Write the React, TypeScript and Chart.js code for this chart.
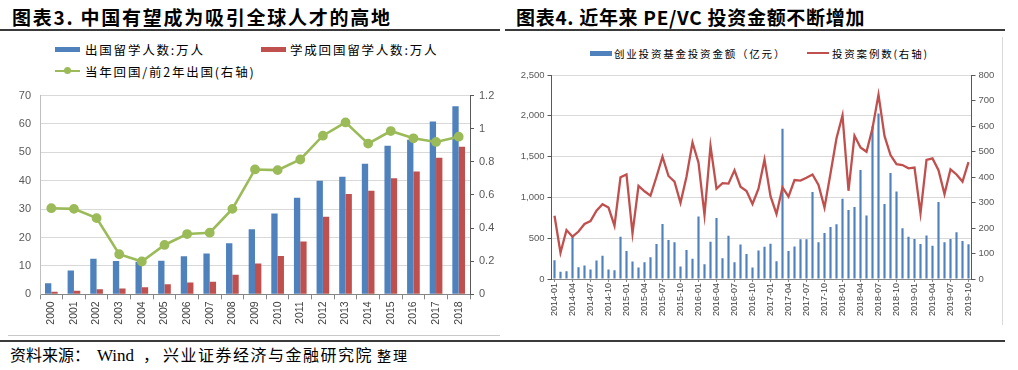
import React, { useEffect, useRef } from 'react';
import { Chart, registerables } from 'chart.js';

Chart.register(...registerables);

// ---------- Left chart data (图表3) ----------
const years = ['2000', '2001', '2002', '2003', '2004', '2005', '2006', '2007', '2008', '2009', '2010', '2011', '2012', '2013', '2014', '2015', '2016', '2017', '2018'];
const outboundStudents = [3.9, 8.4, 12.5, 11.73, 11.47, 11.85, 13.4, 14.4, 17.98, 22.93, 28.47, 33.97, 39.96, 41.39, 45.98, 52.37, 54.45, 60.84, 66.21];
const returnedStudents = [0.91, 1.22, 1.79, 2.01, 2.51, 3.5, 4.2, 4.4, 6.93, 10.83, 13.48, 18.62, 27.29, 35.35, 36.48, 40.91, 43.25, 48.09, 51.94];
const returnRatio = [0.52, 0.516, 0.46, 0.242, 0.198, 0.298, 0.364, 0.372, 0.516, 0.754, 0.75, 0.814, 0.958, 1.038, 0.91, 0.986, 0.942, 0.92, 0.952];
const leftLabels = ['出国留学人数:万人', '学成回国留学人数:万人', '当年回国/前2年出国(右轴)'];
const leftColors = ['#4f81bd', '#c0504d', '#9bbb59'];

// ---------- Right chart data (图表4) ----------
const months = [
  '2014-01', '2014-02', '2014-03', '2014-04', '2014-05', '2014-06', '2014-07', '2014-08', '2014-09', '2014-10', '2014-11', '2014-12',
  '2015-01', '2015-02', '2015-03', '2015-04', '2015-05', '2015-06', '2015-07', '2015-08', '2015-09', '2015-10', '2015-11', '2015-12',
  '2016-01', '2016-02', '2016-03', '2016-04', '2016-05', '2016-06', '2016-07', '2016-08', '2016-09', '2016-10', '2016-11', '2016-12',
  '2017-01', '2017-02', '2017-03', '2017-04', '2017-05', '2017-06', '2017-07', '2017-08', '2017-09', '2017-10', '2017-11', '2017-12',
  '2018-01', '2018-02', '2018-03', '2018-04', '2018-05', '2018-06', '2018-07', '2018-08', '2018-09', '2018-10', '2018-11', '2018-12',
  '2019-01', '2019-02', '2019-03', '2019-04', '2019-05', '2019-06', '2019-07', '2019-08', '2019-09', '2019-10',
];
const ventureAmount = [
  230, 90, 95, 520, 145, 165, 115, 226, 284, 115, 107, 518,
  342, 214, 140, 206, 267, 428, 675, 477, 449, 152, 354, 247,
  765, 181, 457, 749, 255, 531, 206, 424, 305, 140, 350, 395,
  432, 218, 1840, 342, 399, 486, 486, 1066, 450, 564, 638, 671,
  982, 847, 883, 1337, 777, 1873, 2029, 920, 1300, 1072, 622, 519,
  491, 429, 532, 409, 945, 450, 491, 573, 466, 425,
];
const dealCount = [
  248, 103, 192, 166, 186, 216, 227, 268, 293, 280, 209, 399,
  410, 179, 365, 344, 327, 401, 480, 404, 382, 299, 401, 535,
  456, 251, 522, 354, 376, 374, 426, 362, 345, 294, 354, 468,
  325, 255, 359, 323, 388, 386, 397, 410, 369, 280, 414, 552,
  642, 346, 562, 516, 499, 591, 723, 561, 486, 450, 447, 434,
  437, 258, 467, 473, 427, 333, 430, 410, 382, 458,
];
const rightLabels = ['创业投资基金投资金额（亿元）', '投资案例数(右轴)'];
const rightColors = ['#4f81bd', '#c0504d'];

const TICK_FONT = "'Liberation Sans', Arial, sans-serif";
const CJK = "'Noto Sans CJK SC', 'Noto Sans', sans-serif";
const SERIF = "'Liberation Serif', 'Noto Sans CJK SC', serif";

export default function App() {
  const leftRef = useRef<HTMLCanvasElement>(null);
  const rightRef = useRef<HTMLCanvasElement>(null);

  useEffect(() => {
    const left = new Chart(leftRef.current as HTMLCanvasElement, {
      type: 'bar',
      data: {
        labels: years,
        datasets: [
          {
            type: 'line',
            label: leftLabels[2],
            data: returnRatio,
            yAxisID: 'y1',
            borderColor: leftColors[2],
            backgroundColor: leftColors[2],
            pointBackgroundColor: leftColors[2],
            pointBorderColor: leftColors[2],
            borderWidth: 2.6,
            pointRadius: 3.6,
            tension: 0,
            order: 0,
          } as any,
          {
            type: 'bar',
            label: leftLabels[0],
            data: outboundStudents,
            yAxisID: 'y',
            backgroundColor: leftColors[0],
            categoryPercentage: 0.56,
            barPercentage: 1,
            order: 1,
          },
          {
            type: 'bar',
            label: leftLabels[1],
            data: returnedStudents,
            yAxisID: 'y',
            backgroundColor: leftColors[1],
            categoryPercentage: 0.56,
            barPercentage: 1,
            order: 1,
          },
        ],
      },
      options: {
        responsive: false,
        animation: false,
        layout: { padding: { top: 14.7, left: 0, right: 0, bottom: 0 } },
        plugins: { legend: { display: false }, tooltip: { enabled: false } },
        scales: {
          x: {
            grid: { display: true, drawOnChartArea: false, drawTicks: true, tickLength: 5, color: '#868686', offset: true },
            border: { display: true, color: '#868686' },
            ticks: { autoSkip: false, minRotation: 90, maxRotation: 90, padding: 2, color: '#404040', font: { family: TICK_FONT, size: 10.5 } },
            afterFit: (s: any) => { s.height = 35.7; },
          },
          y: {
            position: 'left',
            min: 0,
            max: 70,
            ticks: { stepSize: 10, padding: 9, color: '#595959', font: { family: TICK_FONT, size: 11 } },
            grid: { color: '#d9d9d9', drawTicks: false },
            border: { display: true, color: '#bfbfbf' },
            afterFit: (s: any) => { s.width = 40; },
          },
          y1: {
            position: 'right',
            min: 0,
            max: 1.2,
            ticks: {
              stepSize: 0.2,
              padding: 5,
              color: '#595959',
              font: { family: TICK_FONT, size: 11 },
              callback: (v: any) => String(Number(Number(v).toFixed(1))),
            },
            grid: { drawOnChartArea: false, drawTicks: true, tickLength: 4, color: '#595959' },
            border: { display: true, color: '#595959' },
            afterFit: (s: any) => { s.width = 30; },
          },
        },
      },
    });

    const right = new Chart(rightRef.current as HTMLCanvasElement, {
      type: 'bar',
      data: {
        labels: months,
        datasets: [
          {
            type: 'line',
            label: rightLabels[1],
            data: dealCount,
            yAxisID: 'y1',
            borderColor: rightColors[1],
            backgroundColor: rightColors[1],
            borderWidth: 2.3,
            pointRadius: 0,
            tension: 0,
            order: 0,
          } as any,
          {
            type: 'bar',
            label: rightLabels[0],
            data: ventureAmount,
            yAxisID: 'y',
            backgroundColor: rightColors[0],
            categoryPercentage: 1,
            barPercentage: 0.36,
            order: 1,
          },
        ],
      },
      options: {
        responsive: false,
        animation: false,
        layout: { padding: { top: 15, left: 0, right: 0, bottom: 0 } },
        plugins: { legend: { display: false }, tooltip: { enabled: false } },
        scales: {
          x: {
            grid: { display: true, drawOnChartArea: false, drawTicks: true, tickLength: 3, color: '#868686', offset: false },
            border: { display: true, color: '#868686' },
            ticks: {
              autoSkip: false,
              minRotation: 90,
              maxRotation: 90,
              padding: 1,
              color: '#404040',
              font: { family: TICK_FONT, size: 9 },
              callback: (_v: any, i: number) => (i % 3 === 0 ? months[i] : null),
            },
            afterFit: (s: any) => { s.height = 46; },
          },
          y: {
            position: 'left',
            min: 0,
            max: 2500,
            ticks: { stepSize: 500, padding: 3, color: '#595959', font: { family: TICK_FONT, size: 9.5 } },
            grid: { color: '#d9d9d9', drawTicks: true, tickLength: 4, tickColor: '#595959' },
            border: { display: true, color: '#595959' },
            afterFit: (s: any) => { s.width = 46.5; },
          },
          y1: {
            position: 'right',
            min: 0,
            max: 800,
            ticks: { stepSize: 100, padding: 3, color: '#595959', font: { family: TICK_FONT, size: 9.5 } },
            grid: { drawOnChartArea: false, drawTicks: true, tickLength: 4, color: '#595959' },
            border: { display: true, color: '#595959' },
            afterFit: (s: any) => { s.width = 30.5; },
          },
        },
      },
    });

    return () => {
      left.destroy();
      right.destroy();
    };
  }, []);

  const abs = (o: React.CSSProperties): React.CSSProperties => ({ position: 'absolute', ...o });
  const titleStyle: React.CSSProperties = {
    fontFamily: CJK, fontWeight: 'bold', fontSize: 19, lineHeight: '19px', letterSpacing: 1.75, color: '#000', whiteSpace: 'nowrap',
  };
  const legendText: React.CSSProperties = { fontFamily: CJK, fontSize: 12.5, lineHeight: '13px', letterSpacing: 1.8, color: '#000', whiteSpace: 'nowrap' };
  const legendTextR: React.CSSProperties = { fontFamily: CJK, fontSize: 10.5, lineHeight: '11px', letterSpacing: 1.8, color: '#000', whiteSpace: 'nowrap' };
  const footer: React.CSSProperties = { fontFamily: SERIF, fontSize: 16, lineHeight: '16px', color: '#000', whiteSpace: 'nowrap' };

  return (
    <div style={abs({ left: 0, top: 0, width: 1018, height: 370, background: '#fff', overflow: 'hidden' })}>
      {/* titles */}
      <div style={abs({ left: 12, top: 7, ...titleStyle })}>图表3. 中国有望成为吸引全球人才的高地</div>
      <div style={abs({ left: 516, top: 7, ...titleStyle, letterSpacing: 0.7 })}>图表4. 近年来 PE/VC 投资金额不断增加</div>
      <div style={abs({ left: 0, top: 28.5, width: 500, height: 2, background: '#3a3a3a' })} />
      <div style={abs({ left: 505, top: 28.5, width: 500, height: 2, background: '#3a3a3a' })} />

      {/* left legend */}
      <div style={abs({ left: 55, top: 46.5, width: 25, height: 5.5, background: leftColors[0] })} />
      <div style={abs({ left: 85, top: 43, ...legendText })}>{leftLabels[0]}</div>
      <div style={abs({ left: 261, top: 46.5, width: 25, height: 5.5, background: leftColors[1] })} />
      <div style={abs({ left: 290, top: 43, ...legendText })}>{leftLabels[1]}</div>
      <div style={abs({ left: 55, top: 69.5, width: 25, height: 2.5, background: leftColors[2] })} />
      <div style={abs({ left: 64, top: 67, width: 7, height: 7, borderRadius: '50%', background: leftColors[2] })} />
      <div style={abs({ left: 85, top: 64.5, ...legendText })}>{leftLabels[2]}</div>

      {/* right legend */}
      <div style={abs({ left: 590, top: 51, width: 22, height: 4.5, background: rightColors[0] })} />
      <div style={abs({ left: 614, top: 47.5, ...legendTextR })}>{rightLabels[0]}</div>
      <div style={abs({ left: 807, top: 52.3, width: 22, height: 2, background: rightColors[1] })} />
      <div style={abs({ left: 832, top: 47.5, ...legendTextR })}>{rightLabels[1]}</div>

      {/* charts */}
      <canvas ref={leftRef} width={500} height={250} style={abs({ left: 0, top: 80, width: 500, height: 250 })} />
      <canvas ref={rightRef} width={497} height={265} style={abs({ left: 505, top: 60, width: 497, height: 265 })} />

      {/* frames */}
      <div style={abs({ left: 8, top: 335, width: 492, height: 1, background: '#c8c8c8' })} />
      <div style={abs({ left: 1001.5, top: 37, width: 1, height: 288, background: '#d9d9d9' })} />
      <div style={abs({ left: 0, top: 339.5, width: 1005, height: 2, background: '#3a3a3a' })} />

      {/* footer */}
      <div style={abs({ left: 10, top: 348, ...footer })}>资料来源：</div>
      <div style={abs({ left: 97, top: 348, ...footer, fontSize: 17 })}>Wind</div>
      <div style={abs({ left: 143, top: 348, ...footer })}>，</div>
      <div style={abs({ left: 163, top: 348, ...footer, letterSpacing: 1.5 })}>兴业证券经济与金融研究院</div>
      <div style={abs({ left: 377, top: 349, ...footer, fontSize: 14, letterSpacing: 2 })}>整理</div>
    </div>
  );
}
